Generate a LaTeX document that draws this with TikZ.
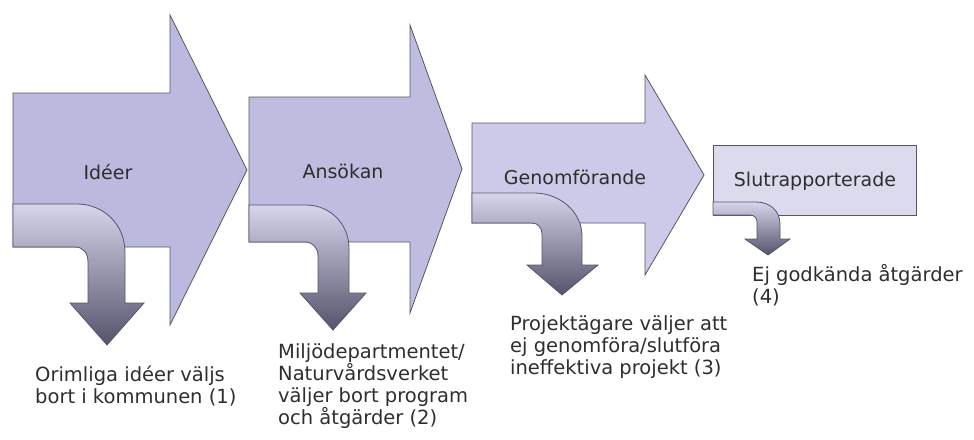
\documentclass[tikz,border=0pt]{standalone}
\usepackage{fontspec}
\setmainfont{DejaVu Sans}
\definecolor{bodyA}{HTML}{BBB9DD}
\definecolor{bodyB}{HTML}{BFBDDF}
\definecolor{bodyC}{HTML}{CCCAE8}
\definecolor{bodyD}{HTML}{DCDBEE}
\definecolor{dropTop}{HTML}{D6D5EC}
\definecolor{dropBot}{HTML}{55536B}
\definecolor{edgeC}{HTML}{55556A}
\definecolor{txt}{HTML}{2E2E2E}
\tikzset{
  bigarrow/.style={draw=edgeC, line width=0.8pt, line join=miter},
  droparrow/.style={draw=edgeC, line width=0.8pt, top color=dropTop, bottom color=dropBot},
  stagelabel/.style={font=\fontsize{19}{22}\selectfont, text=txt, inner sep=0pt},
  notelabel/.style={font=\fontsize{19.5}{22}\selectfont, text=txt, inner sep=0pt, align=left, anchor=north west},
}
\begin{document}
\begin{tikzpicture}[x=1pt,y=-1pt]
\useasboundingbox (0,0) rectangle (974,439);
% big arrows
\draw[bigarrow, fill=bodyA] (13,93) -- (170,93) -- (170,15) -- (247,170) -- (170,325) -- (170,247) -- (13,247) -- cycle;
\draw[bigarrow, fill=bodyB] (249,97) -- (410,97) -- (410,25) -- (462,169) -- (410,313) -- (410,242) -- (249,242) -- cycle;
\draw[bigarrow, fill=bodyC] (472,123) -- (645,123) -- (645,75) -- (704,175) -- (645,275) -- (645,223) -- (472,223) -- cycle;
\draw[bigarrow, fill=bodyD] (713,145) rectangle (916,215);
% drop arrows
\draw[droparrow] (13,204) -- (77,204) .. controls (104,204) and (125,225) .. (125,252) -- (125,303) -- (144,303) -- (107,345) -- (70,303) -- (88,303) -- (88,262) .. controls (88,253) and (83,247) .. (75,247) -- (13,247) -- cycle;
\draw[droparrow] (249,205) -- (306,205) .. controls (330,205) and (349,224) .. (349,248) -- (349,293) -- (366,293) -- (333,330) -- (300,293) -- (318,293) -- (318,256) .. controls (318,248) and (313,242) .. (305,242) -- (249,242) -- cycle;
\draw[droparrow] (472,193) -- (534,193) .. controls (560,193) and (582,212) .. (582,236) -- (582,265) -- (598,265) -- (562,295) -- (527,265) -- (542,265) -- (542,234) .. controls (542,228) and (538,223) .. (532,223) -- (472,223) -- cycle;
\draw[droparrow] (713,202) -- (756,202) .. controls (770,202) and (780,211) .. (780,224) -- (780,239) -- (790,239) -- (768,255) -- (745,239) -- (757,239) -- (757,222) .. controls (757,218) and (754,215) .. (750,215) -- (713,215) -- cycle;
% stage labels
\node[stagelabel] (ideer) at (108,172) {Idéer};
\node[stagelabel] (ansokan) at (343,171) {Ansökan};
\node[stagelabel] (genom) at (575,177) {Genomförande};
\node[stagelabel] (slut) at (815,181) {Slutrapporterade};
% notes
\node[notelabel] (n1) at (35,366) {Orimliga idéer väljs\\bort i kommunen (1)};
\node[notelabel] (n2) at (278,343) {Miljödepartmentet/\\Naturvårdsverket\\väljer bort program\\och åtgärder (2)};
\node[notelabel] (n3) at (510,315) {Projektägare väljer att\\ej genomföra/slutföra\\ineffektiva projekt (3)};
\node[notelabel] (n4) at (752,264) {Ej godkända åtgärder\\(4)};
\end{tikzpicture}
\end{document}
